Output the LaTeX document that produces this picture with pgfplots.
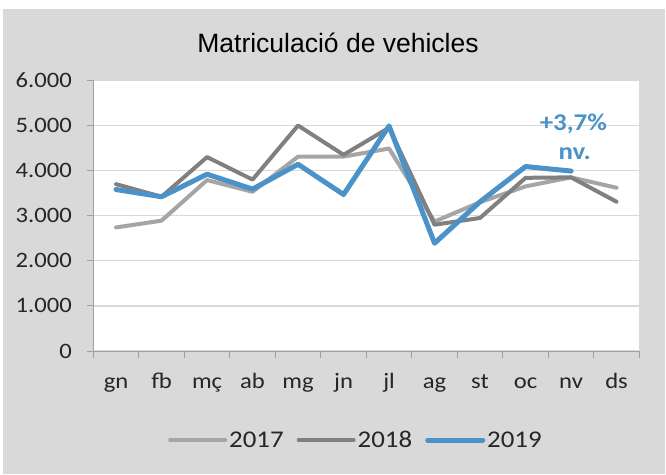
\documentclass[border=0pt]{standalone}
\usepackage{pgfplots}
\pgfplotsset{compat=1.18}
\usepackage{fontspec}
\setmainfont[FakeStretch=1.12]{Carlito}
\newfontfamily\titlefont{Liberation Sans}
\definecolor{bg}{HTML}{D9D9D9}
\definecolor{c17}{HTML}{A5A5A5}
\definecolor{c18}{HTML}{808080}
\definecolor{c19}{HTML}{4A92C7}
\definecolor{gridc}{HTML}{D9D9D9}
\definecolor{axc}{HTML}{A0A0A0}
\definecolor{txt}{HTML}{262626}
\begin{document}
\begin{tikzpicture}[x=1pt,y=1pt]
\useasboundingbox (0,0) rectangle (666,474);
\fill[white] (0,0) rectangle (666,474);
\fill[bg] (3,0) rectangle (665,465);
\node[font=\titlefont\fontsize{26.5}{30}\selectfont, anchor=base, text=black] at (338,421.7) {Matriculació de vehicles};
\begin{axis}[
  at={(93.3pt,123pt)}, anchor=south west,
  scale only axis, width=546pt, height=270.6pt,
  xmin=-0.5, xmax=11.5, ymin=0, ymax=6000,
  axis lines*=left,
  axis line style={draw=axc, line width=1pt, -},
  axis background/.style={fill=white},
  xtick={0,...,11},
  xticklabels={gn,fb,mç,ab,mg,jn,jl,ag,st,oc,nv,ds},
  minor xtick={-0.5,0.5,...,11.5},
  ytick={0,1000,...,6000},
  minor ytick={0,1000,...,6000},
  tick align=outside,
  major tick length=0pt,
  minor tick length=6.5pt,
  tick style={draw=axc, line width=1pt},
  ymajorgrids,
  grid style={draw=gridc, line width=1.2pt},
  scaled y ticks=false,
  /pgf/number format/assume math mode=true,
  /pgf/number format/1000 sep={.},
  yticklabel style={font=\fontsize{22}{24}\selectfont, text=txt, anchor=east, xshift=-18pt},
  xticklabel style={font=\fontsize{22}{24}\selectfont, text=txt, anchor=base, yshift=-37pt},
  legend style={draw=none, fill=none, font=\fontsize{24}{26}\selectfont, text=txt,
    legend columns=3, at={(0.481,-0.329)}, anchor=center,
    /tikz/every even column/.append style={column sep=11pt},
    /tikz/every odd column/.append style={column sep=0pt}},
  legend image code/.code={\draw[#1,line cap=round] (0pt,0pt) -- (55pt,0pt);},
  every axis plot/.append style={line join=round, line cap=round, no marks},
]
\addplot[c17, line width=4pt] coordinates {(0,2740) (1,2890) (2,3790) (3,3530) (4,4310) (5,4310) (6,4490) (7,2870) (8,3300) (9,3650) (10,3850) (11,3620)};
\addlegendentry{2017}
\addplot[c18, line width=4pt] coordinates {(0,3700) (1,3420) (2,4300) (3,3800) (4,5000) (5,4350) (6,4950) (7,2800) (8,2950) (9,3840) (10,3850) (11,3310)};
\addlegendentry{2018}
\addplot[c19, line width=5pt] coordinates {(0,3580) (1,3420) (2,3920) (3,3590) (4,4140) (5,3470) (6,4990) (7,2390) (8,3310) (9,4090) (10,3990)};
\addlegendentry{2019}
\node[font=\bfseries\fontsize{24}{26}\selectfont, text=c19, anchor=base] at (axis cs:10.05,4900) {+3,7\%};
\node[font=\bfseries\fontsize{24}{26}\selectfont, text=c19, anchor=base] at (axis cs:10.08,4250) {nv.};
\end{axis}
\end{tikzpicture}
\end{document}
